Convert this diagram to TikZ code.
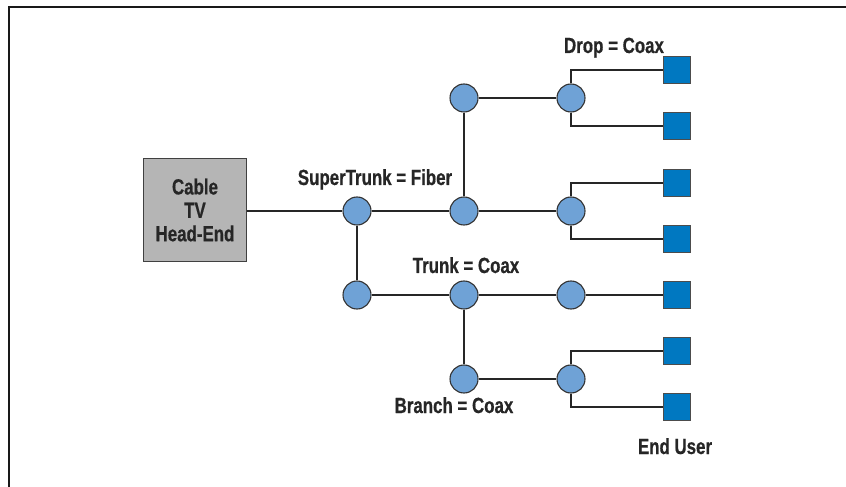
\documentclass[tikz,border=0pt]{standalone}
\usepackage{fontspec}
\newfontfamily\lblfont[FakeStretch=0.77,FakeBold=0.6]{Liberation Sans Bold}
\begin{document}
\begin{tikzpicture}[x=1bp,y=-1bp,
  lbl/.style={font=\lblfont\fontsize{22}{23.5}\selectfont, text=black!85, inner sep=0pt},
  tap/.style={circle, draw=black!80, line width=1.1bp, fill=nodeblue, minimum size=28bp, inner sep=0pt},
  enduser/.style={rectangle, draw=black!70, line width=1bp, fill=userblue, minimum size=27bp, inner sep=0pt},
  headend/.style={rectangle, draw=black!75, line width=1.2bp, fill=boxgray, minimum width=103bp, minimum height=103bp, align=center, inner sep=0pt},
  wire/.style={draw=black!85, line width=1.6bp},
  frameline/.style={draw=black!90, line width=2bp}]
\definecolor{nodeblue}{HTML}{6FA2D6}
\definecolor{userblue}{HTML}{0078C1}
\definecolor{boxgray}{HTML}{B5B5B5}
\useasboundingbox (0,0) rectangle (846,487);

% open frame: top and left edges only
\draw[frameline] (8,7) -- (846,7);
\draw[frameline] (9,7) -- (9,487);

% head-end
\node[headend, lbl] (he) at (195,210) {Cable\\TV\\Head-End};

% amplifier / splitter taps
\node[tap] (a) at (357,211) {};
\node[tap] (b) at (464,211) {};
\node[tap] (c) at (464,98) {};
\node[tap] (d) at (571,98) {};
\node[tap] (e) at (571,211) {};
\node[tap] (f) at (357,295) {};
\node[tap] (g) at (464,295) {};
\node[tap] (h) at (571,295) {};
\node[tap] (i) at (464,379) {};
\node[tap] (j) at (571,379) {};

% end users
\node[enduser] (u1) at (677,70) {};
\node[enduser] (u2) at (677,126) {};
\node[enduser] (u3) at (677,183) {};
\node[enduser] (u4) at (677,239) {};
\node[enduser] (u5) at (677,295) {};
\node[enduser] (u6) at (677,351) {};
\node[enduser] (u7) at (677,407) {};

% cabling
\draw[wire] (he.east |- a) -- (a);
\draw[wire] (a) -- (b);
\draw[wire] (b) -- (e);
\draw[wire] (a) -- (f);
\draw[wire] (b) -- (c);
\draw[wire] (c) -- (d);
\draw[wire] (f) -- (g);
\draw[wire] (g) -- (h);
\draw[wire] (h) -- (u5);
\draw[wire] (g) -- (i);
\draw[wire] (i) -- (j);
\draw[wire] (d) |- (u1);
\draw[wire] (d) |- (u2);
\draw[wire] (e) |- (u3);
\draw[wire] (e) |- (u4);
\draw[wire] (j) |- (u6);
\draw[wire] (j) |- (u7);

% labels
\node[lbl, anchor=base] (l1) at (375,185) {SuperTrunk = Fiber};
\node[lbl, anchor=base] (l2) at (466,273) {Trunk = Coax};
\node[lbl, anchor=base] (l3) at (614,53) {Drop = Coax};
\node[lbl, anchor=base] (l4) at (454,413) {Branch = Coax};
\node[lbl, anchor=base] (l5) at (675,454) {End User};
\end{tikzpicture}
\end{document}
